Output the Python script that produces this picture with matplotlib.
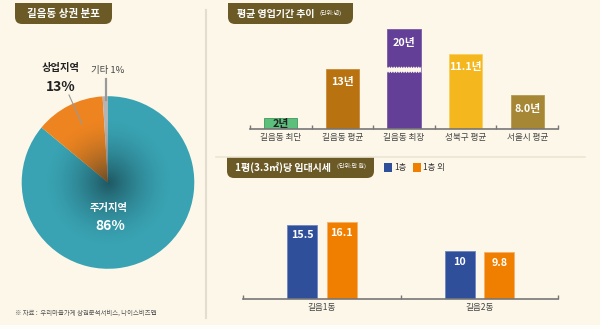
import numpy as np
import matplotlib
matplotlib.use("Agg")
import matplotlib.pyplot as plt
from matplotlib.path import Path
from matplotlib.patches import PathPatch, Rectangle, Circle

plt.rcParams['font.family'] = ['Noto Sans CJK KR', 'DejaVu Sans']

# ---------------- data ----------------
pie_labels = ['주거지역', '상업지역', '기타']
pie_values = [86, 13, 1]
pie_colors = ['#39a3b3', '#ee8420', '#b4b4b4']

period_categories = ['길음동 최단', '길음동 평균', '길음동 최장', '성북구 평균', '서울시 평균']
period_labels = ['2년', '13년', '20년', '11.1년', '8.0년']
# drawn bar heights (the graphic is not to scale; the 20-year bar is broken)
period_heights = [2.3, 12.1, 20.0, 15.1, 6.8]
period_colors = ['#5cbf7c', '#b8720f', '#643f97', '#f4b81e', '#a58736']
period_label_colors = ['#222222', 'white', 'white', 'white', 'white']

rent_categories = ['길음1동', '길음2동']
rent_series = ['1층', '1층 외']
rent_first = [15.5, 10]
rent_other = [16.1, 9.8]
rent_colors = ['#2f4f9b', '#f07f00']

W, H = 600, 329
BG = '#fdf7ea'
BADGE = '#6b5a26'

fig = plt.figure(figsize=(W / 100, H / 100), dpi=100)
fig.patch.set_facecolor('#fffdf8')


def add_ax(x0, y0, x1, y1, **kw):
    return fig.add_axes([x0 / W, 1 - y1 / H, (x1 - x0) / W, (y1 - y0) / H], **kw)


def pixel_ax(z):
    a = add_ax(0, 0, W, H)
    a.set_xlim(0, W)
    a.set_ylim(H, 0)
    a.axis('off')
    a.set_zorder(z)
    a.patch.set_alpha(0)
    return a


# background layer
bg = pixel_ax(-1)
bg.add_patch(Rectangle((0, 0), W, 325, color=BG, lw=0))
bg.plot([206, 206], [10, 318], color='#e2ddcf', lw=1.5)
bg.plot([216, 585], [157, 157], color='#ebe5d4', lw=1.2)

# foreground layer for texts
fg = pixel_ax(10)


def badge(x0, y0, x1, y1, r=7):
    verts = [(x0, y0), (x1, y0), (x1, y1 - r), (x1, y1), (x1 - r, y1),
             (x0 + r, y1), (x0, y1), (x0, y1 - r), (x0, y0)]
    codes = [Path.MOVETO, Path.LINETO, Path.LINETO, Path.CURVE3, Path.CURVE3,
             Path.LINETO, Path.CURVE3, Path.CURVE3, Path.CLOSEPOLY]
    bg.add_patch(PathPatch(Path(verts, codes), facecolor=BADGE, edgecolor='none'))


badge(15, 3, 112, 24)
fg.text(63.5, 14, '길음동 상권 분포', color='white', fontsize=7.6, fontweight='bold',
        ha='center', va='center')
badge(228, 3, 353, 24)
fg.text(237, 14, '평균 영업기간 추이', color='white', fontsize=7.2, fontweight='bold',
        ha='left', va='center')
fg.text(319, 12.5, '(단위:년)', color='white', fontsize=4.3, ha='left', va='center')
badge(227, 157, 374, 178)
fg.text(235, 167.5, '1평(3.3㎡)당 임대시세', color='white', fontsize=7.2, fontweight='bold',
        ha='left', va='center')
fg.text(337, 166, '(단위:만 원)', color='white', fontsize=4.3, ha='left', va='center')

# legend for rent chart
for i, (name, col) in enumerate(zip(rent_series, rent_colors)):
    x = 384 + i * 29
    fg.add_patch(Rectangle((x, 163), 7.5, 8.5, color=col, lw=0))
    fg.text(x + 10, 167.2, name, fontsize=6, color='#333333', ha='left', va='center')

fg.text(15, 313, '※ 자료 :  우리마을가게 상권분석서비스, 나이스비즈맵', fontsize=4.6,
        color='#555555', ha='left', va='center')

# ---------------- pie ----------------
cx, cy, R = 108, 182.5, 86.3
pax = add_ax(cx - R, cy - R, cx + R, cy + R)
wedges, _ = pax.pie(pie_values, colors=pie_colors, startangle=90, counterclock=False,
                    radius=1, wedgeprops=dict(linewidth=0))
pax.set_xlim(-1, 1)
pax.set_ylim(-1, 1)
pax.axis('off')
# radial dark shading toward centre
g = np.linspace(-1, 1, 300)
xx, yy = np.meshgrid(g, g)
rr = np.sqrt(xx ** 2 + yy ** 2)
alpha = np.clip(1 - rr / 0.75, 0, 1) ** 1.6 * 0.6
shade = np.zeros((300, 300, 4))
shade[..., 0] = 0.05
shade[..., 1] = 0.15
shade[..., 2] = 0.18
shade[..., 3] = alpha
im = pax.imshow(shade, extent=[-1, 1, -1, 1], origin='lower', zorder=3, interpolation='bilinear')
clip = Circle((0, 0), 1, transform=pax.transData)
im.set_clip_path(clip)

fg.text(61, 68, pie_labels[1], fontsize=7.4, fontweight='bold', color='#222222',
        ha='center', va='center')
fg.text(61, 87, f'{pie_values[1]}%', fontsize=10, fontweight='bold', color='#222222',
        ha='center', va='center')
fg.plot([69, 82], [95, 124], color='#999999', lw=0.8)
fg.text(108, 71, f'{pie_labels[2]} {pie_values[2]}%', fontsize=6.8, color='#444444',
        ha='center', va='center')
fg.plot([105.8, 105.8], [79, 100], color='#999999', lw=1.6)
fg.text(108.5, 208, pie_labels[0], fontsize=7.4, fontweight='bold', color='white',
        ha='center', va='center')
fg.text(110, 226, f'{pie_values[0]}%', fontsize=10, fontweight='bold', color='white',
        ha='center', va='center')

# ---------------- period bars ----------------
base1 = 129.3
ax1 = add_ax(250, base1 - 21.86 * 5, 558, base1)
ax1.set_facecolor('none')
x1 = np.arange(len(period_categories))
bars = ax1.bar(x1, period_heights, width=0.54, color=period_colors, zorder=2,
               edgecolor=['#3f9a5c', '#c98a3a', '#7a5aa8', '#f8cf5e', '#b89a50'], linewidth=0.6)
ax1.set_xlim(-0.5, len(period_categories) - 0.5)
ax1.set_ylim(0, 21.86)
for s in ['top', 'right', 'left']:
    ax1.spines[s].set_visible(False)
ax1.spines['bottom'].set_color('#777777')
ax1.spines['bottom'].set_linewidth(1.2)
ax1.set_yticks([])
ax1.set_xticks(x1)
ax1.set_xticklabels(period_categories, fontsize=6.2, color='#444444')
ax1.tick_params(axis='x', length=0, pad=3)
ax1.set_xticks(np.arange(-0.5, len(period_categories)), minor=True)
ax1.tick_params(axis='x', which='minor', direction='in', length=3, width=1, color='#777777')
for i, (b, lab) in enumerate(zip(bars, period_labels)):
    h = b.get_height()
    if i == 0:
        y = h / 2
    else:
        y = h - 2.7
    ax1.text(b.get_x() + b.get_width() / 2, y, lab, ha='center', va='center',
             fontsize=7.8, fontweight='bold', color=period_label_colors[i], zorder=4)
# break mark on the longest bar
b = bars[2]
bx0, bw = b.get_x() - 0.01, b.get_width() + 0.02
n = 14
xs = np.linspace(bx0, bx0 + bw, 2 * n + 1)
yc = 11.9
amp = 0.32
top = [yc + 0.35 + (amp if k % 2 == 0 else 0) for k in range(len(xs))]
bot = [yc - 0.35 - (amp if k % 2 == 0 else 0) for k in range(len(xs))]
poly_x = list(xs) + list(xs[::-1])
poly_y = top + bot[::-1]
ax1.fill(poly_x, poly_y, color=BG, zorder=3, lw=0)

# ---------------- rent bars ----------------
base2 = 299.3
ax2 = add_ax(243.3, base2 - 20.7 * 4.8, 558.3, base2)
ax2.set_facecolor('none')
x2 = np.arange(len(rent_categories))
off, bw2 = 0.126, 0.19
b1 = ax2.bar(x2 - off, rent_first, width=bw2, color=rent_colors[0], edgecolor='#6f86c0',
             linewidth=0.6, zorder=2)
b2 = ax2.bar(x2 + off, rent_other, width=bw2, color=rent_colors[1], edgecolor='#f6b070',
             linewidth=0.6, zorder=2)
ax2.set_xlim(-0.5, len(rent_categories) - 0.5)
ax2.set_ylim(0, 20.7)
for s in ['top', 'right', 'left']:
    ax2.spines[s].set_visible(False)
ax2.spines['bottom'].set_color('#777777')
ax2.spines['bottom'].set_linewidth(1.2)
ax2.set_yticks([])
ax2.set_xticks(x2)
ax2.set_xticklabels(rent_categories, fontsize=6.2, color='#444444')
ax2.tick_params(axis='x', length=0, pad=3)
ax2.set_xticks(np.arange(-0.5, len(rent_categories)), minor=True)
ax2.tick_params(axis='x', which='minor', direction='in', length=3, width=1, color='#777777')
for bs in (b1, b2):
    for bb in bs:
        h = bb.get_height()
        ax2.text(bb.get_x() + bb.get_width() / 2, h - 2.2, f'{h:g}', ha='center', va='center',
                 fontsize=7.8, fontweight='bold', color='white', zorder=4)

fig.savefig('out.png', dpi=100, facecolor=fig.get_facecolor())
